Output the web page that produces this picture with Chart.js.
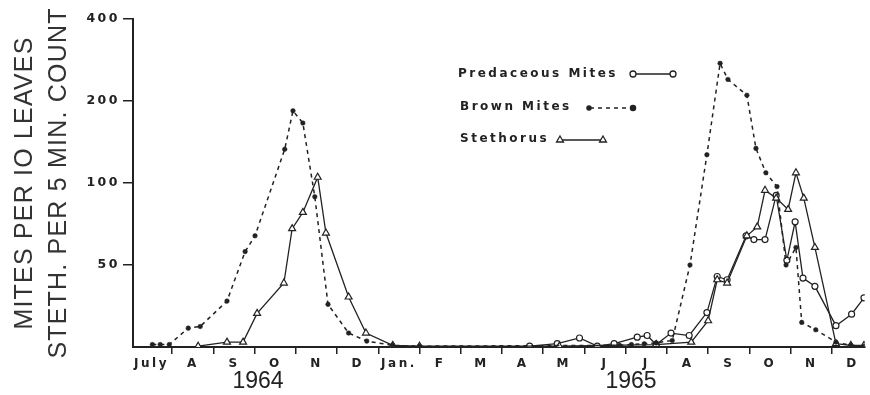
<!DOCTYPE html>
<html>
<head>
<meta charset="utf-8">
<script src="https://cdn.jsdelivr.net/npm/chart.js@4.4.1/dist/chart.umd.min.js"></script>
<style>
  html, body { margin: 0; padding: 0; background: #fff; }
  canvas { display: block; }
</style>
</head>
<body>
<canvas id="chart" width="870" height="395"></canvas>
<script>
// months counted from 1 July 1964
const monthLabels = ["July", "A", "S", "O", "N", "D", "Jan.", "F", "M", "A", "M", "J", "J", "A", "S", "O", "N", "D"];
const yTickValues = [50, 100, 200, 400];
const yearLabels = ["1964", "1965"];

const brownMonths = [0.52, 0.71, 0.93, 1.39, 1.68, 2.33, 2.77, 3.01, 3.73, 3.93, 4.17, 4.46, 4.78, 5.28, 5.72, 6.35, 7.0,
    11.85, 12.14, 12.45, 12.74, 13.13, 13.56, 13.97, 14.29, 14.48, 14.94, 15.16, 15.40, 15.67, 15.89, 16.13, 16.27, 16.61, 17.1, 17.46, 17.78];
const brownCounts = [1.5, 1.5, 1.5, 11.5, 12.5, 28, 56, 64, 133, 184, 166, 89, 26, 8.5, 3.6, 1, 0.5,
    1, 1.5, 2, 2.5, 4, 50, 127, 275, 240, 210, 134, 109, 97, 50, 58, 15, 10.5, 3, 1, 0.5];

const stethMonths = [1.63, 2.33, 2.72, 3.06, 3.71, 3.91, 4.17, 4.53, 4.73, 5.28, 5.70, 6.35, 7.0,
    10.39, 12.74, 13.59, 14.0, 14.22, 14.46, 14.94, 15.19, 15.38, 15.65, 15.94, 16.13, 16.32, 16.59, 17.1, 17.46, 17.78];
const stethCounts = [0.5, 3, 3, 20.5, 39, 68, 78, 105, 65.5, 30.5, 8.5, 1, 0.5,
    0.5, 1.5, 3, 16, 41, 39, 64, 69, 94, 88, 80, 109, 88, 58, 2, 1, 1];

const predMonths = [9.67, 10.34, 10.88, 11.31, 11.72, 12.28, 12.52, 12.74, 13.10, 13.54, 13.97, 14.22, 14.46, 14.92, 15.11,
    15.38, 15.65, 15.91, 16.11, 16.3, 16.59, 17.1, 17.48, 17.78];
const predCounts = [0.5, 2, 5.5, 0.5, 2, 6, 7, 1.5, 8.5, 7, 21, 43, 41, 64, 62,
    62, 90, 52, 72, 42, 37, 13, 20, 30];

const ink = "#222";

// vertical scale of the figure: 0, 50, 100, 200, 400 equally spaced
function toAxis(v) {
    return v < 50 ? v / 50 : 1 + Math.log2(v / 50);
}

function points(months, counts) {
    return months.map((m, i) => ({ x: m, y: toAxis(counts[i]) }));
}

const figurePlugin = {
    id: "figure",
    beforeDraw(chart) {
        // axis title is drawn in the grid layer
        chart.ctx.letterSpacing = "1.2px";
    },
    beforeDatasetsDraw(chart) {
        chart.ctx.letterSpacing = "0px";
    },
    afterDatasetsDraw(chart) {
        // tick labels are drawn after this (ticks.z = 1)
        chart.ctx.letterSpacing = "2.5px";
    },
    afterDraw(chart) {
        const ctx = chart.ctx;
        ctx.save();
        ctx.letterSpacing = "0px";
        ctx.fillStyle = ink;
        ctx.font = '23px "Liberation Sans"';
        ctx.textAlign = "center";
        ctx.textBaseline = "middle";
        ctx.fillText(yearLabels[0], 258, 382);
        ctx.fillText(yearLabels[1], 631, 382);

        // legend
        ctx.letterSpacing = "2.5px";
        ctx.font = 'bold 12px "DejaVu Sans"';
        ctx.textAlign = "left";
        ctx.fillText("Predaceous Mites", 458, 74);
        ctx.fillText("Brown Mites", 460, 107);
        ctx.fillText("Stethorus", 460, 139);

        const draw = Chart.helpers.drawPoint;
        ctx.strokeStyle = ink;
        ctx.lineWidth = 1.3;
        ctx.beginPath(); ctx.moveTo(633, 74); ctx.lineTo(673, 74); ctx.stroke();
        ctx.fillStyle = "#fff";
        draw(ctx, { pointStyle: "circle", radius: 3, borderWidth: 1.2 }, 633, 74);
        draw(ctx, { pointStyle: "circle", radius: 3, borderWidth: 1.2 }, 673, 74);

        ctx.setLineDash([4, 4]);
        ctx.lineWidth = 1.5;
        ctx.beginPath(); ctx.moveTo(590, 108); ctx.lineTo(632, 108); ctx.stroke();
        ctx.setLineDash([]);
        ctx.fillStyle = ink;
        draw(ctx, { pointStyle: "circle", radius: 2, borderWidth: 0.5 }, 589, 108);
        draw(ctx, { pointStyle: "circle", radius: 2.5, borderWidth: 0.5 }, 633, 108);

        ctx.lineWidth = 1.3;
        ctx.beginPath(); ctx.moveTo(560, 140); ctx.lineTo(603, 140); ctx.stroke();
        ctx.fillStyle = "#fff";
        draw(ctx, { pointStyle: "triangle", radius: 4, borderWidth: 1.2 }, 560, 140);
        draw(ctx, { pointStyle: "triangle", radius: 4, borderWidth: 1.2 }, 603, 140);
        ctx.restore();
        ctx.letterSpacing = "0px";
    }
};

new Chart(document.getElementById("chart"), {
    type: "line",
    data: {
        datasets: [
            {
                label: "Brown Mites",
                data: points(brownMonths, brownCounts),
                borderColor: ink,
                borderWidth: 1.5,
                borderDash: [4, 4],
                pointStyle: "circle",
                pointRadius: 2.3,
                pointBackgroundColor: ink,
                pointBorderColor: ink,
                pointBorderWidth: 0.5,
                tension: 0
            },
            {
                label: "Stethorus",
                data: points(stethMonths, stethCounts),
                borderColor: ink,
                borderWidth: 1.3,
                pointStyle: "triangle",
                pointRadius: 4,
                pointBackgroundColor: "#fff",
                pointBorderColor: ink,
                pointBorderWidth: 1.2,
                tension: 0
            },
            {
                label: "Predaceous Mites",
                data: points(predMonths, predCounts),
                borderColor: ink,
                borderWidth: 1.3,
                pointStyle: "circle",
                pointRadius: 3,
                pointBackgroundColor: "#fff",
                pointBorderColor: ink,
                pointBorderWidth: 1.2,
                tension: 0
            }
        ]
    },
    options: {
        responsive: false,
        animation: false,
        devicePixelRatio: 1,
        layout: { padding: { top: 19, right: 4, left: 0, bottom: 0 } },
        plugins: {
            legend: { display: false },
            tooltip: { enabled: false }
        },
        scales: {
            x: {
                type: "linear",
                min: 0.05,
                max: 17.8,
                afterFit(scale) { scale.height = 48; },
                afterBuildTicks(scale) {
                    const t = [];
                    for (let i = 0; i < monthLabels.length; i++) {
                        if (i > 0) t.push({ value: i });
                        t.push({ value: i + 0.5 });
                    }
                    scale.ticks = t;
                },
                grid: {
                    drawOnChartArea: false,
                    tickLength: 7,
                    lineWidth: 1.5,
                    tickColor: (c) => Number.isInteger(c.tick && c.tick.value) ? ink : "rgba(0,0,0,0)"
                },
                border: { color: ink, width: 2 },
                ticks: {
                    z: 1,
                    autoSkip: false,
                    maxRotation: 0,
                    padding: 3,
                    color: ink,
                    font: { family: "DejaVu Sans", size: 12, weight: "bold" },
                    callback: (v) => Number.isInteger(v) ? "" : monthLabels[Math.floor(v)]
                }
            },
            y: {
                type: "linear",
                min: 0,
                max: 4,
                afterFit(scale) { scale.width = 133; },
                afterBuildTicks(scale) {
                    scale.ticks = yTickValues.map(v => ({ value: toAxis(v) }));
                },
                grid: {
                    drawOnChartArea: false,
                    tickLength: 10,
                    lineWidth: 1.5,
                    color: ink
                },
                border: { color: ink, width: 2 },
                ticks: {
                    z: 1,
                    padding: 3,
                    color: ink,
                    font: { family: "DejaVu Sans", size: 12.5, weight: "bold" },
                    callback: (v) => {
                        const i = yTickValues.findIndex(t => Math.abs(toAxis(t) - v) < 1e-6);
                        return i >= 0 ? String(yTickValues[i]) : "";
                    }
                },
                title: {
                    display: true,
                    text: ["MITES PER IO LEAVES", "STETH. PER 5 MIN. COUNT"],
                    color: "#333",
                    font: { family: "Liberation Sans", size: 25, lineHeight: "34px" },
                    padding: { top: 8, bottom: 0 }
                }
            }
        }
    },
    plugins: [figurePlugin]
});
</script>
</body>
</html>
